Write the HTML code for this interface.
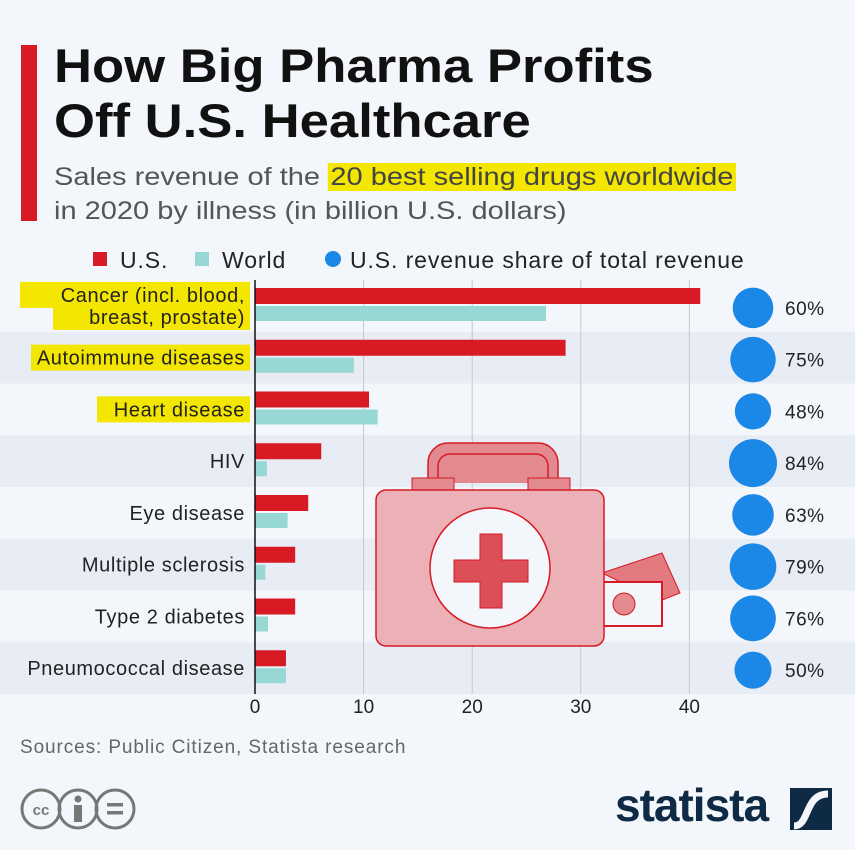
<!DOCTYPE html>
<html><head><meta charset="utf-8"><style>
body{margin:0;width:855px;height:850px;background:#f3f7fb;font-family:"Liberation Sans",sans-serif;overflow:hidden;position:relative}
.t{position:absolute}
</style></head><body>
<div class="t" style="left:21px;top:45px;width:16px;height:176px;background:#d71a24"></div>
<div class="t" style="left:54px;top:38px;font-size:47px;font-weight:bold;line-height:55px;color:#111;transform:scaleX(1.12);transform-origin:0 0;white-space:nowrap">How Big Pharma Profits<br>Off U.S. Healthcare</div>
<div class="t" style="left:54px;top:160px;font-size:25px;line-height:34px;color:#555;transform:scaleX(1.16);transform-origin:0 0;white-space:nowrap">Sales revenue of the <span style="background:#f3e600;color:#444;padding:0 2px">20 best selling drugs worldwide</span><br>in 2020 by illness (in billion U.S. dollars)</div>
<svg id="chart" class="t" style="left:0;top:0" width="855" height="850"></svg>
<div class="t" style="left:20px;top:737px;font-size:19px;color:#666;letter-spacing:0.9px">Sources: Public Citizen, Statista research</div>
<svg class="t" style="left:20px;top:788px" width="150" height="44">
<g fill="none" stroke="#777" stroke-width="3"><circle cx="21" cy="21" r="19"/><circle cx="58" cy="21" r="19"/><circle cx="95" cy="21" r="19"/></g>
<text x="21" y="27" font-size="15" font-weight="bold" fill="#777" text-anchor="middle">cc</text>
<rect x="54" y="17" width="8" height="17" fill="#777"/><circle cx="58" cy="11" r="3.5" fill="#777"/>
<rect x="87" y="15" width="16" height="3.5" fill="#777"/><rect x="87" y="23" width="16" height="3.5" fill="#777"/>
</svg>
<div class="t" style="left:615px;top:778px;font-size:46px;font-weight:bold;color:#0f2a44;letter-spacing:-1px">statista</div>
<svg class="t" style="left:790px;top:788px" width="42" height="42"><rect width="42" height="42" fill="#0f2a44"/><path d="M4 38 C20 38 14 6 38 6" stroke="#f3f7fb" stroke-width="7" fill="none"/></svg>
<script>
const categories=["Cancer (incl. blood,|breast, prostate)","Autoimmune diseases","Heart disease","HIV","Eye disease","Multiple sclerosis","Type 2 diabetes","Pneumococcal disease"];
const usValues=[41.0,28.6,10.5,6.1,4.9,3.7,3.7,2.85];
const worldValues=[26.8,9.1,11.3,1.1,3.0,0.95,1.2,2.85];
const shareValues=[60,75,48,84,63,79,76,50];
const highlighted=[true,true,true,false,false,false,false,false];
const xTicks=[0,10,20,30,40];
const NS="http://www.w3.org/2000/svg";
const svg=document.getElementById('chart');
const x0=255,pxPer=10.86,top0=280,rowH=51.75;
const xs=v=>x0+v*pxPer;
const rowY=i=>top0+i*rowH;
function mk(tag,attrs,parent){const e=document.createElementNS(NS,tag);for(const k in attrs)e.setAttribute(k,attrs[k]);(parent||svg).appendChild(e);return e;}
categories.forEach((c,i)=>{const b=mk('rect',{x:0,y:rowY(i),width:855,height:rowH,fill:i%2?'#e8edf5':'#f3f7fb'});

});
xTicks.forEach(t=>{if(t>0){const g=mk('line',{x1:xs(t),x2:xs(t),y1:top0,y2:rowY(categories.length),stroke:'#c4c8cd','stroke-width':1});

}
const l=mk('text',{x:xs(t),y:713,'font-size':19,fill:'#222','text-anchor':'middle'});l.textContent=t;

});
categories.forEach((c,i)=>{const y=rowY(i);
const r=mk('rect',{x:x0,y:y+8,width:xs(usValues[i])-x0,height:16,fill:'#d71a24'});


const w=mk('rect',{x:x0,y:y+26,width:xs(worldValues[i])-x0,height:15,fill:'#97d8d4'});


const lines=c.split('|');
const cy=y+rowH/2;
lines.forEach((ln,k)=>{const ty=cy+7+(k-(lines.length-1)/2)*22;
if(highlighted[i]){const tw=ln.length*11+6;
const h=mk('rect',{x:246-tw,y:ty-20,width:tw+4,height:26,fill:'#f3e600'});

}
const t=mk('text',{x:245,y:ty,'font-size':20,'letter-spacing':0.6,fill:'#222','text-anchor':'end'});t.textContent=ln;

});
const br=2.62*Math.sqrt(shareValues[i]);
const b=mk('circle',{cx:753,cy:cy+2,r:br,fill:'#1b87e6'});


const st=mk('text',{x:785,y:cy+9,'font-size':19,'letter-spacing':0.5,fill:'#222'});st.textContent=shareValues[i]+'%';

});
const ax=mk('line',{x1:x0,x2:x0,y1:top0,y2:rowY(categories.length),stroke:'#111','stroke-width':1.5});


const lg=mk('g',{});


mk('rect',{x:93,y:252,width:14,height:14,fill:'#d71a24'},lg);
mk('text',{x:120,y:268,'font-size':23,'letter-spacing':0.9,fill:'#222'},lg).textContent='U.S.';
mk('rect',{x:195,y:252,width:14,height:14,fill:'#97d8d4'},lg);
mk('text',{x:222,y:268,'font-size':23,'letter-spacing':0.9,fill:'#222'},lg).textContent='World';
mk('circle',{cx:333,cy:259,r:8,fill:'#1b87e6'},lg);
mk('text',{x:350,y:268,'font-size':23,'letter-spacing':0.9,fill:'#222'},lg).textContent='U.S. revenue share of total revenue';
const il=mk('g',{transform:'translate(376,428)'});


mk('path',{d:'M52 55 V35 a20 20 0 0 1 20 -20 h90 a20 20 0 0 1 20 20 V55 M62 55 V38 a12 12 0 0 1 12 -12 h86 a12 12 0 0 1 12 12 V55',fill:'#e38a90',stroke:'#d71a24','stroke-width':1.5},il);
mk('rect',{x:36,y:50,width:42,height:12,fill:'#e38a90',stroke:'#d71a24'},il);
mk('rect',{x:152,y:50,width:42,height:12,fill:'#e38a90',stroke:'#d71a24'},il);
mk('path',{d:'M226 145 l60 -20 l18 40 l-20 8 z',fill:'#e37a80',stroke:'#d71a24'},il);
mk('rect',{x:226,y:154,width:60,height:44,fill:'#f3f7fb',stroke:'#d71a24','stroke-width':2},il);
mk('circle',{cx:248,cy:176,r:11,fill:'#e38a90',stroke:'#d71a24'},il);
mk('rect',{x:0,y:62,width:228,height:156,rx:10,fill:'#ebb1b6',stroke:'#d71a24','stroke-width':1.5},il);
mk('circle',{cx:114,cy:140,r:60,fill:'#f3f7fb',stroke:'#d71a24','stroke-width':1.5},il);
mk('path',{d:'M104 106 h22 v26 h26 v22 h-26 v26 h-22 v-26 h-26 v-22 h26 z',fill:'#dc4f58',stroke:'#d71a24'},il);
</script>
</body></html>
